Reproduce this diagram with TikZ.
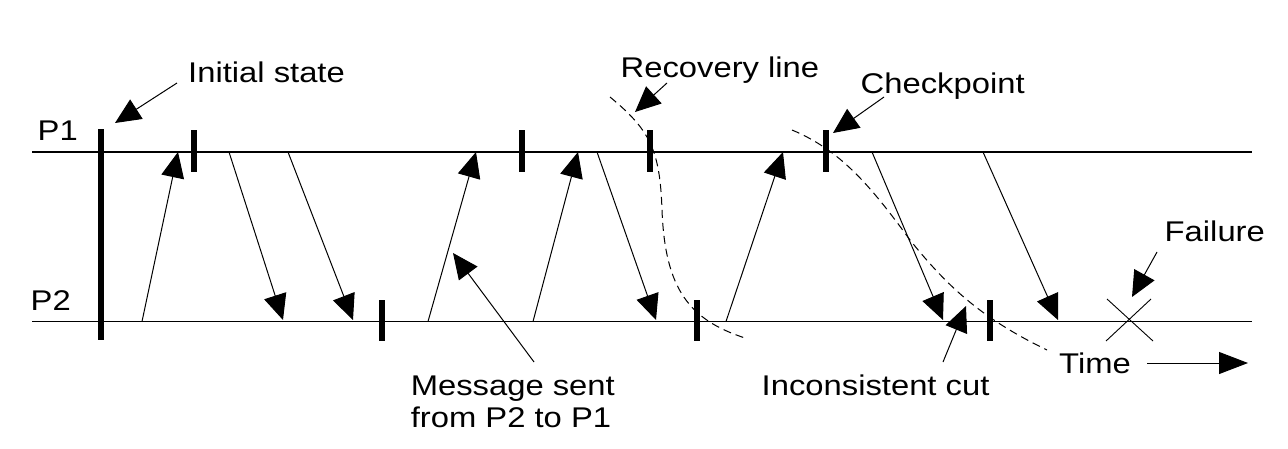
\documentclass[tikz,border=0pt]{standalone}
\usepackage{fontspec}
\setmainfont{Liberation Sans}
\usetikzlibrary{arrows.meta}
\newcommand\lbl[1]{\scalebox{1.15}[1]{#1}}
\begin{document}
\begin{tikzpicture}[x=1pt,y=-1pt,
  proc/.style={line width=1.3pt},
  msg/.style={line width=1pt,-{Triangle[length=25.5pt,width=23pt]}},
  callout/.style={line width=1pt,-{Triangle[length=25.5pt,width=23pt]}},
  ckpt/.style={line width=5.5pt},
  cutline/.style={line width=1pt,dash pattern=on 8pt off 5pt},
  lab/.style={inner sep=0pt,anchor=base west,font=\fontsize{28.5}{32}\selectfont}]
\path[fill=white] (0,0) rectangle (1288,448);
\useasboundingbox (0,0) rectangle (1288,448);

% process lines
\coordinate (p1l) at (32,152); \coordinate (p1r) at (1252,152);
\coordinate (p2l) at (32,321.5); \coordinate (p2r) at (1252,321.5);
\draw[proc] (p1l) -- (p1r);
\draw[proc] (p2l) -- (p2r);

% labels
\node[lab] (lp1) at (37.5,140) {\lbl{P1}};
\node[lab] (lp2) at (30.5,310) {\lbl{P2}};
\node[lab] (linit) at (188,82.7) {\lbl{Initial state}};
\node[lab] (lrec) at (620.5,77) {\lbl{Recovery line}};
\node[lab] (lchk) at (860.5,93) {\lbl{Checkpoint}};
\node[lab] (lfail) at (1164.5,241) {\lbl{Failure}};
\node[lab] (ltime) at (1059,373) {\lbl{Time}};
\node[lab] (lcut) at (761.5,395) {\lbl{Inconsistent cut}};
\node[lab] (lmsg) at (410.6,395) {\parbox[t]{8cm}{\lbl{Message sent}\\\lbl{from P2 to P1}}};

% initial state bar
\coordinate (i0) at (101,129); \coordinate (i1) at (101,340);
\draw[ckpt] (i0) -- (i1);

% checkpoints on P1
\foreach \x [count=\k] in {194,522,650,826}{
  \coordinate (ca\k) at (\x,130); \coordinate (cb\k) at (\x,172);
  \draw[ckpt] (ca\k) -- (cb\k);
}
% checkpoints on P2
\foreach \x [count=\k] in {382,697,990}{
  \coordinate (da\k) at (\x,300); \coordinate (db\k) at (\x,341);
  \draw[ckpt] (da\k) -- (db\k);
}

% messages
\coordinate (m1a) at (142,321.5); \coordinate (m1b) at (178,152);
\coordinate (m2a) at (229,152);   \coordinate (m2b) at (283,320);
\coordinate (m3a) at (288,152);   \coordinate (m3b) at (353,320);
\coordinate (m4a) at (428,321.5); \coordinate (m4b) at (476,152);
\coordinate (m5a) at (533,321.5); \coordinate (m5b) at (578,152);
\coordinate (m6a) at (597,152);   \coordinate (m6b) at (656,320);
\coordinate (m7a) at (726,321.5); \coordinate (m7b) at (783,152);
\coordinate (m8a) at (872,152);   \coordinate (m8b) at (943,320);
\coordinate (m9a) at (983,152);   \coordinate (m9b) at (1058,320);
\foreach \k in {1,...,9}{ \draw[msg] (m\k a) -- (m\k b); }

% callout arrows
\coordinate (ia) at (177,83);   \coordinate (ib) at (115,123);
\coordinate (ra) at (667,83);   \coordinate (rb) at (635,112);
\coordinate (ka) at (884,97);   \coordinate (kb) at (833,133);
\coordinate (fa) at (1157,252); \coordinate (fb) at (1132,297);
\coordinate (sa) at (534,362);  \coordinate (sb) at (453,253);
\coordinate (ua) at (943,362);  \coordinate (ub) at (966,306);
\coordinate (ta) at (1147,363); \coordinate (tb) at (1248,363);
\draw[callout] (ia) -- (ib);
\draw[callout] (ra) -- (rb);
\draw[callout] (ka) -- (kb);
\draw[callout] (fa) -- (fb);
\draw[callout] (sa) -- (sb);
\draw[callout] (ua) -- (ub);
\draw[line width=1pt,-{Triangle[length=29pt,width=22pt]}] (ta) -- (tb);

% failure cross
\coordinate (x1) at (1107,299); \coordinate (x2) at (1153,341);
\coordinate (x3) at (1151,299); \coordinate (x4) at (1106,341);
\draw[line width=0.9pt] (x1) -- (x2);
\draw[line width=0.9pt] (x3) -- (x4);

% recovery line
\coordinate (r0) at (610,97); \coordinate (r1) at (662,210); \coordinate (r2) at (745,338);
\draw[cutline] (r0) .. controls (650,130) and (660,150) .. (r1)
               .. controls (665,290) and (690,320) .. (r2);

% inconsistent cut
\coordinate (q0) at (792,130); \coordinate (q1) at (910,240); \coordinate (q2) at (1047,350);
\draw[cutline] (q0) .. controls (840,150) and (870,185) .. (q1)
               .. controls (950,290) and (985,320) .. (q2);
\end{tikzpicture}
\end{document}
